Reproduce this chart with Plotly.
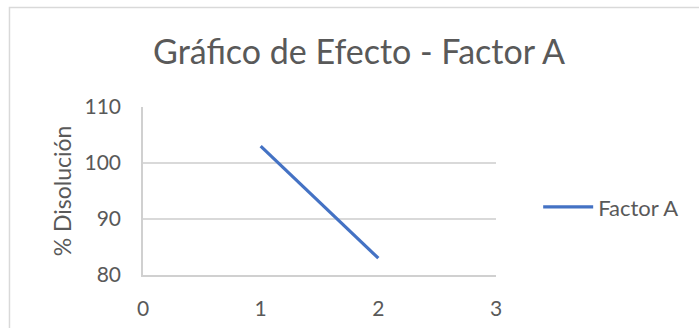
import plotly.graph_objects as go

x_vals = [1, 2]
y_vals = [103, 83]
series_name = "Factor A"
title_text = "Gráfico de Efecto - Factor A"
y_title = "% Disolución"
x_ticks = [0, 1, 2, 3]
y_ticks = [80, 90, 100, 110]

FONT = "Lato"
GREY = "#595959"

fig = go.Figure()
fig.add_trace(go.Scatter(x=x_vals, y=y_vals, mode="lines", name=series_name,
                         line=dict(color="#4472C4", width=3.2)))

L, R, T, B = 142.6, 495.8, 106.7, 275.0
W, H = 699, 328
pw, ph = R - L, B - T

def px2x(p):
    return (p - L) / pw

def py2y(p):
    return (B - p) / ph

fig.update_layout(
    width=W, height=H,
    margin=dict(l=L, r=W - R, t=T, b=H - B, pad=0, autoexpand=False),
    paper_bgcolor="white", plot_bgcolor="white",
    font=dict(family=FONT, color=GREY, size=21),
    title=dict(text=title_text, x=359 / W, xanchor="center", y=1 - 52 / H, yanchor="middle",
               font=dict(family=FONT, size=34, color=GREY)),
    showlegend=True,
    legend=dict(x=px2x(538), y=py2y(207), xanchor="left", yanchor="middle",
                font=dict(family=FONT, size=22, color=GREY), bgcolor="rgba(0,0,0,0)",
                itemwidth=50),
    xaxis=dict(range=[0, 3], tickvals=x_ticks, showgrid=False, zeroline=False, automargin=False,
               showline=True, linecolor="#d0d0d0", linewidth=1.5,
               ticks="outside", ticklen=14, tickcolor="rgba(0,0,0,0)",
               tickfont=dict(family=FONT, size=21, color=GREY)),
    yaxis=dict(range=[80, 110], tickvals=y_ticks, showgrid=True, gridcolor="#d9d9d9", gridwidth=1.5,
               zeroline=False, showline=True, linecolor="#d0d0d0", linewidth=1.5, automargin=False,
               ticks="outside", ticklen=16, tickcolor="rgba(0,0,0,0)",
               tickfont=dict(family=FONT, size=21, color=GREY),
               title=dict(text=y_title, standoff=6, font=dict(family=FONT, size=23, color=GREY))),
    shapes=[dict(type="rect", xref="paper", yref="paper",
                 x0=px2x(9), x1=px2x(705), y0=py2y(335), y1=py2y(7),
                 line=dict(color="#d9d9d9", width=1.5), fillcolor="rgba(0,0,0,0)", layer="below")],
)

fig.write_html("out.html")
